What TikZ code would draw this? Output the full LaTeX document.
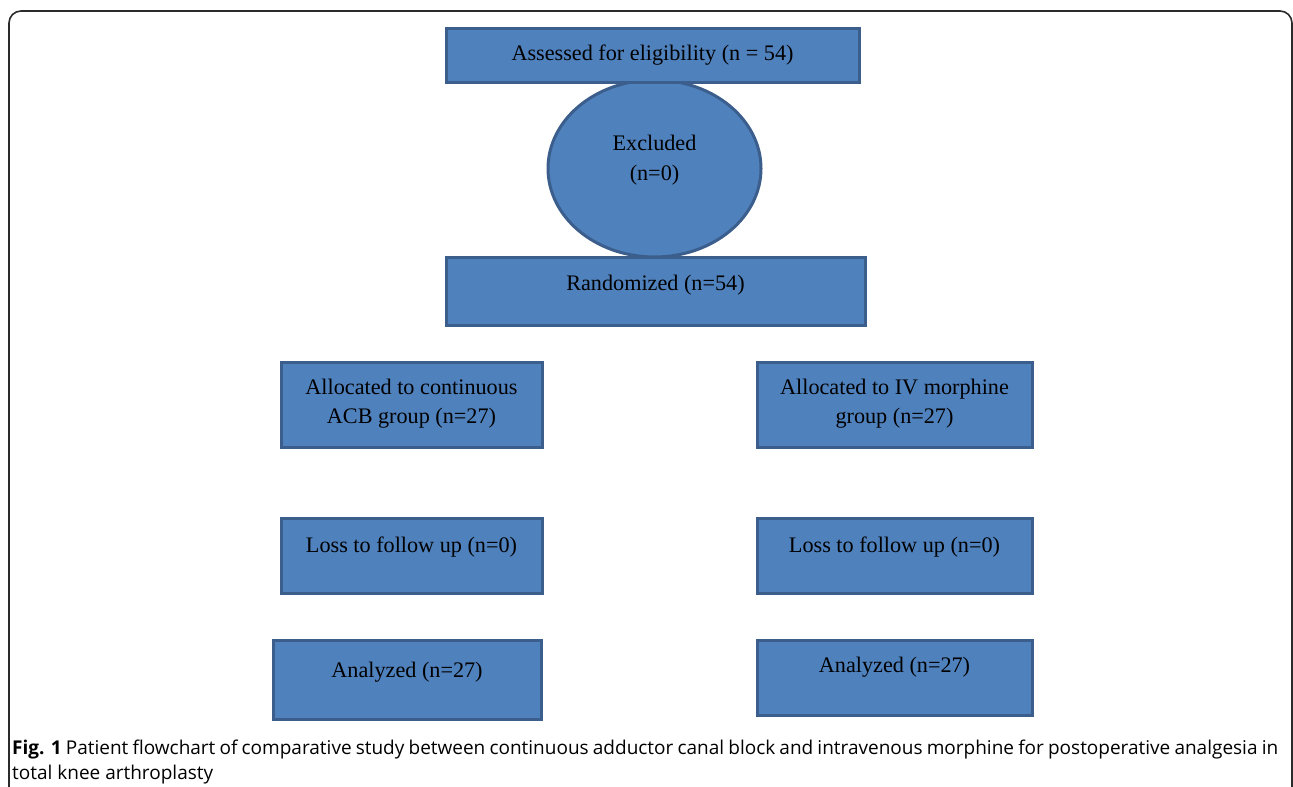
\documentclass[tikz,border=0pt]{standalone}
\usepackage{fontspec}
\setmainfont{Liberation Serif}
\newfontfamily\capfont{Open Sans}
\usetikzlibrary{shapes.geometric}
\definecolor{boxfill}{HTML}{4F81BD}
\definecolor{boxline}{HTML}{3B5E8C}
\definecolor{framecol}{HTML}{2B2B2B}
\tikzset{
  box/.style={draw=boxline, fill=boxfill, line width=3pt, rectangle, inner sep=0pt},
  oval/.style={draw=boxline, fill=boxfill, line width=3pt, ellipse, inner sep=0pt},
  lbl/.style={inner sep=0pt, align=center, font=\fontsize{22.2}{29.5}\selectfont, text=black},
}
\begin{document}
\begin{tikzpicture}[x=1pt,y=-1pt]
\useasboundingbox (0,0) rectangle (1293,787);
\draw[framecol, line width=1.6pt, rounded corners=12pt] (9,800) -- (9,11) -- (1292,11) -- (1292,800);
% boxes
\node[oval, minimum width=213pt, minimum height=177pt] (excl) at (654.5,168.5) {};
\node[box, minimum width=413pt, minimum height=54pt] (assess) at (652.5,55) {};
\node[box, minimum width=419pt, minimum height=68pt] (rand) at (655.5,291) {};
\node[box, minimum width=261pt, minimum height=85pt] (allocL) at (411.5,404.5) {};
\node[box, minimum width=275pt, minimum height=85pt] (allocR) at (894.5,404.5) {};
\node[box, minimum width=261pt, minimum height=75pt] (lossL) at (411.5,555.5) {};
\node[box, minimum width=275pt, minimum height=75pt] (lossR) at (894.5,555.5) {};
\node[box, minimum width=268pt, minimum height=79pt] (anaL) at (407,679.5) {};
\node[box, minimum width=275pt, minimum height=75pt] (anaR) at (894.5,677.5) {};
% texts
\node[lbl] (tassess) at (652.5,55) {Assessed for eligibility (n = 54)};
\node[lbl] (texcl) at (654.5,160) {Excluded\\(n=0)};
\node[lbl] (trand) at (655.5,285) {Randomized (n=54)};
\node[lbl] (tallocL) at (411.5,403.5) {Allocated to continuous\\ACB group (n=27)};
\node[lbl] (tallocR) at (894.5,403.5) {Allocated to IV morphine\\group (n=27)};
\node[lbl] (tlossL) at (411.5,547) {Loss to follow up (n=0)};
\node[lbl] (tlossR) at (894.5,547) {Loss to follow up (n=0)};
\node[lbl] (tanaL) at (407,672) {Analyzed (n=27)};
\node[lbl] (tanaR) at (894.5,667) {Analyzed (n=27)};
% caption
\node[anchor=north west, inner sep=0pt, text width=1266pt, align=justify,
  font=\capfont\fontsize{19}{25}\selectfont] (cap) at (12,739.5)
  {\textbf{Fig. 1} Patient flowchart of comparative study between continuous adductor canal block and intravenous morphine for postoperative analgesia in\linebreak total knee arthroplasty};
\end{tikzpicture}
\end{document}
